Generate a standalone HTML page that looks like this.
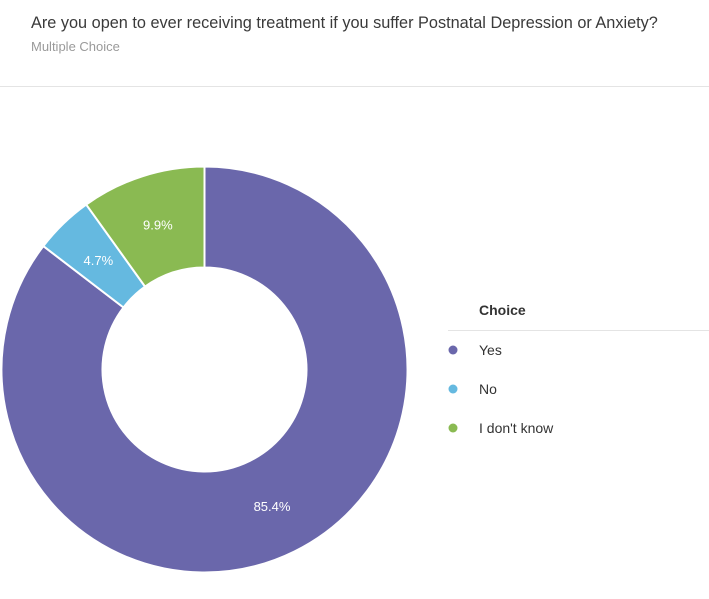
<!DOCTYPE html>
<html><head><meta charset="utf-8"><style>
body{margin:0;width:709px;height:599px;background:#fff;font-family:"Liberation Sans",sans-serif;overflow:hidden;position:relative}
.t{position:absolute;left:31px;top:14px;font-size:16.3px;color:#3a3a3a}
.s{position:absolute;left:31px;top:39px;font-size:13px;color:#9a9a9a}
.sep{position:absolute;left:0;top:86px;width:709px;height:1px;background:#e4e4e4}
</style></head><body>
<div class="t">Are you open to ever receiving treatment if you suffer Postnatal Depression or Anxiety?</div>
<div class="s">Multiple Choice</div>
<div class="sep"></div>
<svg id="c" width="709" height="599" style="position:absolute;left:0;top:0"></svg>
<script>
const categories=["Yes","No","I don't know"];
const values=[85.4,4.7,9.9];
const colors=["#6a67ab","#65b9e0","#8aba52"];
const svg=document.getElementById('c');const NS="http://www.w3.org/2000/svg";
const cx=204.5,cy=369.5,R=203,r=102;
const total=values.reduce((a,b)=>a+b,0);
function pt(a,rad){return [cx+rad*Math.sin(a),cy-rad*Math.cos(a)];}
let a0=0;
values.forEach((v,i)=>{
 const a1=a0+v/total*2*Math.PI;const lg=(a1-a0)>Math.PI?1:0;
 const [x0,y0]=pt(a0,R),[x1,y1]=pt(a1,R),[x2,y2]=pt(a1,r),[x3,y3]=pt(a0,r);
 const p=document.createElementNS(NS,'path');
 p.setAttribute('d',`M${x0} ${y0}A${R} ${R} 0 ${lg} 1 ${x1} ${y1}L${x2} ${y2}A${r} ${r} 0 ${lg} 0 ${x3} ${y3}Z`);
 p.setAttribute('fill',colors[i]);p.setAttribute('stroke','#fff');p.setAttribute('stroke-width','2');
 
 
 svg.appendChild(p);
 const m=(a0+a1)/2;const [lx,ly]=pt(m,(R+r)/2);
 const t=document.createElementNS(NS,'text');
 t.setAttribute('x',lx);t.setAttribute('y',ly+5);t.setAttribute('text-anchor','middle');
 t.setAttribute('fill','#fff');t.setAttribute('font-size','13');t.setAttribute('font-family','Liberation Sans, sans-serif');
 t.textContent=v.toFixed(1)+'%';
 
 
 svg.appendChild(t);
 a0=a1;
});
const h=document.createElementNS(NS,'text');
h.setAttribute('x',479);h.setAttribute('y',315);h.setAttribute('font-size','14');h.setAttribute('font-weight','bold');h.setAttribute('fill','#333');h.setAttribute('font-family','Liberation Sans, sans-serif');
h.textContent='Choice';


svg.appendChild(h);
const ln=document.createElementNS(NS,'rect');
ln.setAttribute('x',448);ln.setAttribute('y',330);ln.setAttribute('width',261);ln.setAttribute('height',1);ln.setAttribute('fill','#e4e4e4');


svg.appendChild(ln);
categories.forEach((c,i)=>{
 const y=350+i*39;
 const g=document.createElementNS(NS,'g');
 
 
 const d=document.createElementNS(NS,'circle');d.setAttribute('cx',453);d.setAttribute('cy',y);d.setAttribute('r',4.5);d.setAttribute('fill',colors[i]);
 const t=document.createElementNS(NS,'text');t.setAttribute('x',479);t.setAttribute('y',y+5);t.setAttribute('font-size','14');t.setAttribute('fill','#333');t.setAttribute('font-family','Liberation Sans, sans-serif');t.textContent=c;
 g.appendChild(d);g.appendChild(t);svg.appendChild(g);
});
</script>
</body></html>
